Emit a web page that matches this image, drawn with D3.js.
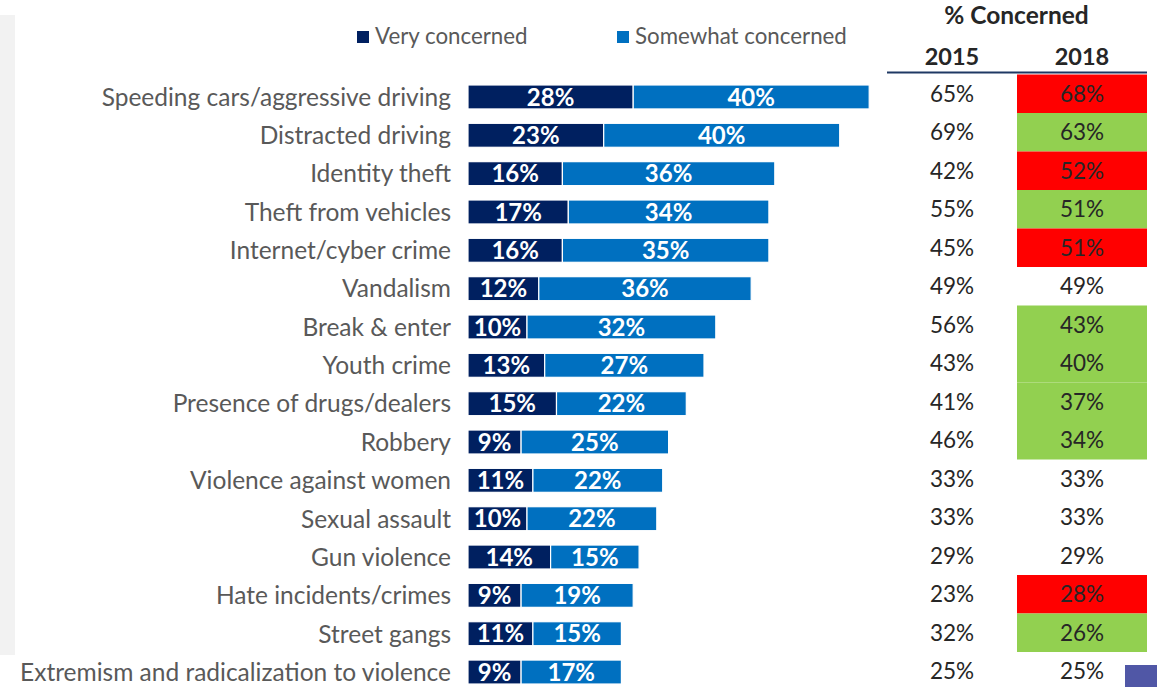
<!DOCTYPE html>
<html>
<head>
<meta charset="utf-8">
<script src="https://cdn.jsdelivr.net/npm/d3@7"></script>
<style>
  html, body { margin: 0; padding: 0; background: #fff; }
  svg { display: block; }
</style>
</head>
<body>
<svg id="chart" width="1157" height="687"></svg>
<script>
// Concern about community safety issues
const categories = [
  "Speeding cars/aggressive driving",
  "Distracted driving",
  "Identity theft",
  "Theft from vehicles",
  "Internet/cyber crime",
  "Vandalism",
  "Break & enter",
  "Youth crime",
  "Presence of drugs/dealers",
  "Robbery",
  "Violence against women",
  "Sexual assault",
  "Gun violence",
  "Hate incidents/crimes",
  "Street gangs",
  "Extremism and radicalization to violence"
];
const veryConcerned     = [28, 23, 16, 17, 16, 12, 10, 13, 15,  9, 11, 10, 14,  9, 11,  9];
const somewhatConcerned = [40, 40, 36, 34, 35, 36, 32, 27, 22, 25, 22, 22, 15, 19, 15, 17];
const concerned2015     = [65, 69, 42, 55, 45, 49, 56, 43, 41, 46, 33, 33, 29, 23, 32, 25];
const concerned2018     = [68, 63, 52, 51, 51, 49, 43, 40, 37, 34, 33, 33, 29, 28, 26, 25];
const seriesNames = ["Very concerned", "Somewhat concerned"];
const tableYears = ["2015", "2018"];

const COLORS = { very: "#002060", somewhat: "#0070C0", up: "#FF0000", down: "#92D050" };
const FONT = "Lato, 'Open Sans', sans-serif";

const svg = d3.select("#chart");

// light grey strip along the left edge
svg.append("rect").attr("x", 0).attr("y", 15).attr("width", 15).attr("height", 640).attr("fill", "#f2f2f2");

// scales
const x = d3.scaleLinear().domain([0, 100]).range([468, 468 + 590]);
const y = d3.scaleBand().domain(categories)
  .range([77.7, 77.7 + 16 * 38.35]).paddingInner(0.375).paddingOuter(0.19);
const rowY = d3.scaleBand().domain(categories).range([74.5, 74.5 + 16 * 38.5]);

const rows = categories.map((c, i) => ({
  cat: c, very: veryConcerned[i], some: somewhatConcerned[i],
  y15: concerned2015[i], y18: concerned2018[i]
}));

// category labels
svg.append("g").selectAll("text").data(rows).join("text")
  .attr("x", 451)
  .attr("y", d => y(d.cat) + y.bandwidth() / 2)
  .attr("dy", "0.36em")
  .attr("text-anchor", "end")
  .attr("font-family", FONT)
  .attr("font-size", 24.5)
  .attr("fill", "#595959")
  .text(d => d.cat);

// stacked bars
const stack = d3.stack().keys(["very", "some"]);
const stacked = stack(rows);
const fills = [COLORS.very, COLORS.somewhat];

const barG = svg.append("g");
stacked.forEach((layer, li) => {
  const g = barG.append("g");
  g.selectAll("rect").data(layer).join("rect")
    .attr("x", d => x(d[0]))
    .attr("y", d => y(d.data.cat))
    .attr("width", d => x(d[1]) - x(d[0]))
    .attr("height", y.bandwidth())
    .attr("fill", fills[li])
    .attr("stroke", "#fff")
    .attr("stroke-width", 1.2);
  g.selectAll("text").data(layer).join("text")
    .attr("x", d => (x(d[0]) + x(d[1])) / 2)
    .attr("y", d => y(d.data.cat) + y.bandwidth() / 2)
    .attr("dy", "0.36em")
    .attr("text-anchor", "middle")
    .attr("font-family", FONT)
    .attr("font-weight", "bold")
    .attr("font-size", 24)
    .attr("fill", "#fff")
    .text(d => (d[1] - d[0]) + "%");
});

// legend
const legend = svg.append("g");
const legendItems = [
  { name: seriesNames[0], color: COLORS.very, x: 357 },
  { name: seriesNames[1], color: COLORS.somewhat, x: 617 }
];
legendItems.forEach(it => {
  legend.append("rect").attr("x", it.x).attr("y", 31).attr("width", 12).attr("height", 12).attr("fill", it.color);
  legend.append("text").attr("x", it.x + 18).attr("y", 44)
    .attr("font-family", FONT).attr("font-size", 22.3).attr("fill", "#595959").text(it.name);
});

// comparison table
const colX = { "2015": 952, "2018": 1082 };
const table = svg.append("g");
table.append("text").attr("x", 1016.5).attr("y", 24).attr("text-anchor", "middle")
  .attr("font-family", FONT).attr("font-weight", "bold").attr("font-size", 24.5)
  .attr("fill", "#262626").text("% Concerned");
tableYears.forEach(yr => {
  table.append("text").attr("x", colX[yr]).attr("y", 65).attr("text-anchor", "middle")
    .attr("font-family", FONT).attr("font-weight", "bold").attr("font-size", 23.5)
    .attr("fill", "#262626").text(yr);
});
table.append("line").attr("x1", 887).attr("x2", 1147).attr("y1", 72.5).attr("y2", 72.5)
  .attr("stroke", "#1f3864").attr("stroke-width", 2);

// highlighted 2018 cells: red if higher than 2015, green if lower
table.selectAll("rect.cell").data(rows.filter(d => d.y18 !== d.y15)).join("rect")
  .attr("class", "cell")
  .attr("x", 1017).attr("width", 130)
  .attr("y", d => rowY(d.cat))
  .attr("height", rowY.bandwidth())
  .attr("fill", d => d.y18 > d.y15 ? COLORS.up : COLORS.down);

["y15", "y18"].forEach((k, ci) => {
  table.append("g").selectAll("text").data(rows).join("text")
    .attr("x", colX[tableYears[ci]])
    .attr("y", d => rowY(d.cat) + rowY.bandwidth() / 2)
    .attr("dy", "0.36em")
    .attr("text-anchor", "middle")
    .attr("font-family", FONT)
    .attr("font-size", 22.5)
    .attr("fill", "#262626")
    .text(d => d[k] + "%");
});

// small blue badge at the bottom-right corner
svg.append("rect").attr("x", 1125).attr("y", 665).attr("width", 32).attr("height", 22).attr("fill", "#5057a6");
</script>
</body>
</html>
